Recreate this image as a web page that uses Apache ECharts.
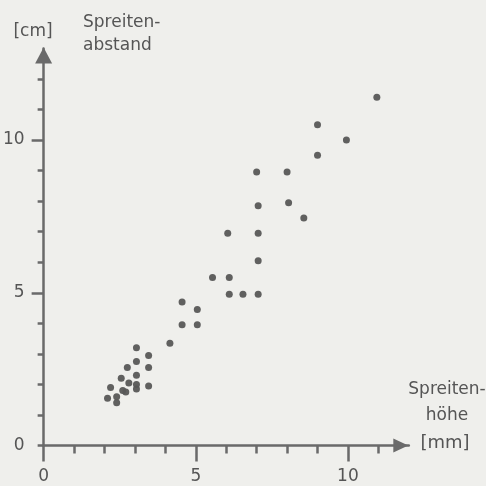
<!DOCTYPE html>
<html>
<head>
<meta charset="utf-8">
<script src="https://cdn.jsdelivr.net/npm/echarts@6/dist/echarts.min.js"></script>
<style>
  html, body { margin: 0; padding: 0; background: #efefec; }
  #chart { width: 486px; height: 486px; }
</style>
</head>
<body>
<div id="chart"></div>
<script>
// Spreitenhöhe [mm] against Spreitenabstand [cm]
const spreitenHoehe = [
  2.1, 2.4, 2.4, 2.2, 2.55, 2.6, 2.7, 2.8, 2.75, 3.05, 3.05, 3.05, 3.05, 3.05,
  3.45, 3.45, 3.45, 4.15, 4.55, 5.05, 4.55, 5.05, 5.55, 6.1, 6.1, 6.55, 7.05,
  7.05, 6.05, 7.05, 7.05, 8.05, 8.55, 7.0, 8.0, 9.0, 9.0, 9.95, 10.95
];
const spreitenAbstand = [
  1.55, 1.6, 1.4, 1.9, 2.2, 1.8, 1.75, 2.05, 2.55, 2.3, 2.0, 1.85, 2.75, 3.2,
  2.95, 2.55, 1.95, 3.35, 4.7, 4.45, 3.95, 3.95, 5.5, 5.5, 4.95, 4.95, 4.95,
  6.05, 6.95, 6.95, 7.85, 7.95, 7.45, 8.95, 8.95, 9.5, 10.5, 10.0, 11.4
];

// axis ticks: long ones carry a label, short ones are unlabelled
const xMajorTicks = [0, 5, 10];
const xMinorTicks = [1, 2, 3, 4, 6, 7, 8, 9, 11];
const yMajorTicks = [5, 10];
const yMinorTicks = [0, 1, 2, 3, 4, 6, 7, 8, 9, 11, 12];
const yLabelTicks = [0, 5, 10];

const ink = '#6a6a6a';
const textInk = '#555555';
const font = 'DejaVu Sans';

const points = spreitenHoehe.map((x, i) => [x, spreitenAbstand[i]]);

const chart = echarts.init(document.getElementById('chart'), null, { renderer: 'canvas' });

const baseAxis = {
  type: 'value',
  min: 0,
  splitLine: { show: false },
  axisLine: { show: false },
  axisLabel: { show: false },
  axisTick: { show: false }
};

chart.setOption({
  backgroundColor: '#efefec',
  animation: false,
  grid: { left: 36.2, right: 77.2, top: 48.4, bottom: 40.5, containLabel: false },
  xAxis: [
    Object.assign({}, baseAxis, {
      max: 12,
      position: 'bottom',
      axisLine: {
        show: true,
        onZero: false,
        lineStyle: { color: ink, width: 2.5 },
        symbol: ['none', 'triangle'],
        symbolSize: [14, 15],
        symbolOffset: [0, -8]
      },
      axisTick: {
        show: true,
        customValues: xMajorTicks,
        length: 16,
        lineStyle: { color: ink, width: 2.5 }
      },
      axisLabel: {
        show: true,
        customValues: xMajorTicks,
        margin: 23,
        color: textInk,
        fontFamily: font,
        fontSize: 17
      }
    }),
    Object.assign({}, baseAxis, {
      max: 12,
      position: 'bottom',
      axisTick: {
        show: true,
        customValues: xMinorTicks,
        length: 8,
        lineStyle: { color: ink, width: 2.5 }
      }
    })
  ],
  yAxis: [
    Object.assign({}, baseAxis, {
      max: 13,
      position: 'left',
      axisLine: {
        show: true,
        onZero: false,
        lineStyle: { color: ink, width: 2.5 },
        symbol: ['none', 'triangle'],
        symbolSize: [17, 16],
        symbolOffset: [0, -7]
      },
      axisTick: {
        show: true,
        customValues: yMajorTicks,
        length: 12,
        lineStyle: { color: ink, width: 2.5 }
      },
      axisLabel: {
        show: true,
        customValues: yLabelTicks,
        margin: 19,
        color: textInk,
        fontFamily: font,
        fontSize: 17
      }
    }),
    Object.assign({}, baseAxis, {
      max: 13,
      position: 'left',
      axisTick: {
        show: true,
        customValues: yMinorTicks,
        length: 6,
        lineStyle: { color: ink, width: 2.5 }
      }
    })
  ],
  graphic: [
    { type: 'text', x: 33, y: 32, style: { text: '[cm]', font: '17px ' + font, fill: textInk, textAlign: 'center', textVerticalAlign: 'middle' } },
    { type: 'text', x: 83, y: 11, style: { text: 'Spreiten-\nabstand', font: '17px ' + font, fill: textInk, lineHeight: 23 } },
    { type: 'text', x: 447, y: 377, style: { text: 'Spreiten-\nhöhe', font: '17px ' + font, fill: textInk, lineHeight: 26, textAlign: 'center' } },
    { type: 'text', x: 445, y: 443, style: { text: '[mm]', font: '18px ' + font, fill: textInk, textAlign: 'center', textVerticalAlign: 'middle' } }
  ],
  series: [{
    type: 'scatter',
    xAxisIndex: 0,
    yAxisIndex: 0,
    data: points,
    symbol: 'circle',
    symbolSize: 7,
    itemStyle: { color: '#575757', opacity: 0.95 },
    silent: true
  }]
});
</script>
</body>
</html>
